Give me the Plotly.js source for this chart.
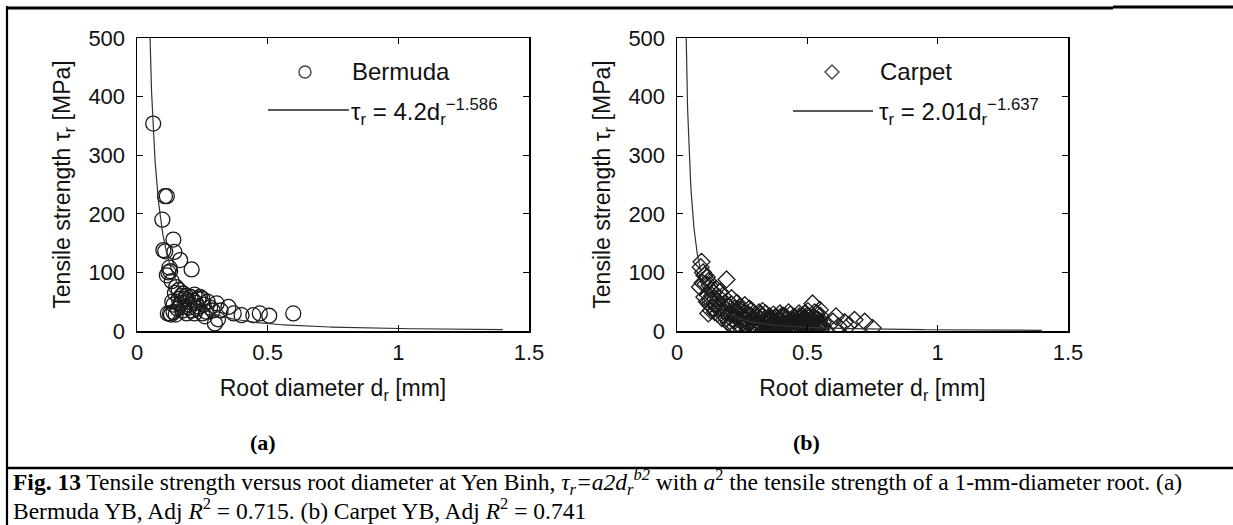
<!DOCTYPE html>
<html>
<head>
<meta charset="utf-8">
<script src="https://cdn.plot.ly/plotly-3.0.1.min.js"></script>
<style>
html,body{margin:0;padding:0;background:#fff;}
#chart{width:1233px;height:525px;}
</style>
</head>
<body>
<div id="chart"></div>
<script>
// ---- Data ----
// (a) Bermuda: root diameter [mm] and tensile strength [MPa]
const bermudaD = [0.062,0.107,0.114,0.097,0.139,0.101,0.143,0.108,0.165,0.124,0.209,0.114,0.120,0.133,0.127,
  0.150,0.160,0.145,0.170,0.177,0.185,0.195,0.205,0.215,0.225,0.235,0.241,0.255,0.270,0.280,0.290,0.305,0.320,
  0.350,0.370,0.400,0.445,0.470,0.506,0.598,0.298,0.310,
  0.126,0.130,0.140,0.155,0.165,0.175,0.190,0.200,0.210,0.220,0.230,0.250,0.260,0.170,0.180,0.160,0.200,0.220,
  0.250,0.140,0.135,0.118,0.148,0.188,0.232,0.265];
const bermudaT = [354,230,230,190,156,138,135,136,121,108,105,95,100,85,102,
  75,70,65,60,64,55,50,58,52,48,55,58,45,50,40,35,47,35,
  41,30,27,27,30,26,30,13,20,
  30,28,32,38,45,35,30,40,35,30,38,30,25,48,42,55,45,62,
  55,45,50,30,28,60,42,33];

// (b) Carpet: root diameter [mm] and tensile strength [MPa]
const carpetD = [0.094,0.091,0.100,0.105,0.114,0.088,0.098,0.110,0.120,0.125,0.130,0.190,0.165,0.150,0.140,
  0.135,0.118,0.105,0.128,0.145,0.155,0.160,0.175,0.209,0.185,0.170,0.150,0.138,0.125,0.115,0.160,0.180,
  0.195,0.200,0.175,0.145,0.130,0.120,0.190,0.210,0.220,0.230,0.240,0.250,0.225,0.215,0.235,0.245,0.255,
  0.260,0.270,0.280,0.275,0.265,0.285,0.290,0.295,0.300,0.305,0.310,0.315,0.320,0.325,0.330,0.335,0.340,
  0.345,0.350,0.355,0.360,0.365,0.370,0.375,0.380,0.385,0.390,0.395,0.400,0.405,0.410,0.415,0.420,0.425,
  0.430,0.435,0.440,0.445,0.450,0.455,0.460,0.465,0.470,0.475,0.480,0.485,0.490,0.495,0.500,0.505,0.510,
  0.515,0.520,0.525,0.530,0.535,0.540,0.545,0.550,0.555,0.560,0.598,0.610,0.643,0.681,0.720,0.751,0.620,
  0.660,0.205,0.228,0.248,0.262,0.278,0.288,0.298,0.308,0.318,0.328,0.338,0.348,0.358,0.368,0.378,0.388,
  0.398,0.408,0.418,0.428,0.438,0.448,0.458,0.468,0.478,0.488,0.498,0.508,0.518,0.528,0.538,0.548,0.558,
  0.155,0.165,0.172,0.183,0.198,0.212,0.222,0.238,0.252,0.268,0.282,0.292,0.312,0.322,0.332,0.342,0.352,
  0.362,0.372,0.382,0.392,0.402,0.412,0.422,0.432,0.442,0.452,0.462,0.472,0.482,0.492,0.502,0.512,0.522,
  0.532,0.542,0.552,0.238,0.302,0.352,0.402,0.452,0.502,0.322,0.372,0.422,0.472,0.542];
const carpetT = [118,109,100,95,92,75,82,80,85,78,70,88,67,72,65,
  60,62,58,52,55,50,58,60,56,48,45,42,40,45,50,38,35,
  42,30,28,32,35,30,22,45,38,48,40,35,25,18,12,28,20,
  44,30,25,15,8,35,10,20,28,5,18,32,12,25,8,20,30,
  3,15,25,10,20,28,5,15,22,8,30,18,4,12,25,20,8,
  15,28,3,18,10,22,6,15,25,12,4,20,30,10,18,25,8,
  15,47,22,12,30,5,18,26,10,15,16,25,15,19,16,5,8,
  10,10,32,6,22,38,18,2,24,6,34,14,22,2,12,24,16,
  6,26,10,32,14,24,2,30,18,8,26,14,4,32,20,36,8,
  30,40,22,32,15,28,8,20,14,10,26,4,14,28,2,10,18,
  6,16,10,4,22,0,14,6,18,2,12,0,26,16,4,10,6,
  20,12,2,36,8,16,26,4,34,20,12,1,22,9];

// Fitted power laws shown in the legends: tau = a * d^b
const fitA = [4.2, 2.01];
const fitB = [-1.586, -1.637];
const fitStart = [0.044, 0.030];
const fitEnd = [1.4, 1.4];

const xTicks = [0, 0.5, 1, 1.5];
const xTickText = ['0', '0.5', '1', '1.5'];
const yTicks = [0, 100, 200, 300, 400, 500];
const yTickText = ['0', '100', '200', '300', '400', '500'];

// ---- helpers ----
const W = 1233, H = 525;
const px = x => x / W;
const py = y => 1 - y / H;

function fitCurve(i) {
  const xs = [], ys = [];
  const n = 400;
  for (let k = 0; k <= n; k++) {
    // log-spaced samples of the fitted function
    const d = fitStart[i] * Math.pow(fitEnd[i] / fitStart[i], k / n);
    xs.push(d);
    ys.push(fitA[i] * Math.pow(d, fitB[i]));
  }
  return {xs, ys};
}
const c1 = fitCurve(0), c2 = fitCurve(1);

const markerColor = '#1a1a1a';
const traces = [
  {x: bermudaD, y: bermudaT, xaxis: 'x', yaxis: 'y', type: 'scatter', mode: 'markers',
   marker: {symbol: 'circle-open', size: 15, color: markerColor, line: {width: 1.3, color: markerColor}},
   showlegend: false, hoverinfo: 'skip'},
  {x: c1.xs, y: c1.ys, xaxis: 'x', yaxis: 'y', type: 'scatter', mode: 'lines',
   line: {color: '#333', width: 1.2}, showlegend: false, hoverinfo: 'skip'},
  {x: carpetD, y: carpetT, xaxis: 'x2', yaxis: 'y2', type: 'scatter', mode: 'markers',
   marker: {symbol: 'diamond-open', size: 13, color: markerColor, line: {width: 1.3, color: markerColor}},
   showlegend: false, hoverinfo: 'skip'},
  {x: c2.xs, y: c2.ys, xaxis: 'x2', yaxis: 'y2', type: 'scatter', mode: 'lines',
   line: {color: '#333', width: 1.2}, showlegend: false, hoverinfo: 'skip'}
];

const sans = 'Liberation Sans, Arial, sans-serif';
const serif = 'Liberation Serif, Times New Roman, serif';
const tickFont = {family: sans, size: 22, color: '#111'};
const titleFont = {family: sans, size: 23, color: '#111'};

function xAxis(domain, anchor) {
  return {domain, anchor, range: [0, 1.5], tickmode: 'array', tickvals: xTicks, ticktext: xTickText,
    ticks: 'inside', ticklen: 6, tickwidth: 1.2, tickcolor: '#000', showline: true, linecolor: '#000',
    linewidth: 1.5, mirror: 'ticks', showgrid: false, zeroline: false, tickfont: tickFont,
    ticklabelstandoff: 1,
    title: {text: 'Root diameter d<sub>r</sub> [mm]', font: titleFont, standoff: 16}};
}
function yAxis(anchor) {
  return {domain: [py(331), py(38)], anchor, range: [0, 500], tickmode: 'array', tickvals: yTicks,
    ticktext: yTickText, ticks: 'inside', ticklen: 6, tickwidth: 1.2, tickcolor: '#000', showline: true,
    linecolor: '#000', linewidth: 1.5, mirror: 'ticks', showgrid: false, zeroline: false, tickfont: tickFont,
    ticklabelstandoff: 6,
    title: {text: 'Tensile strength τ<sub>r</sub> [MPa]', font: titleFont, standoff: 11}};
}

const legFont = {family: sans, size: 24, color: '#111'};
const capFont = {family: serif, size: 23.5, color: '#000'};
const annotations = [
  // legend (a)
  {xref: 'paper', yref: 'paper', x: px(350), y: py(72), xanchor: 'left', yanchor: 'middle',
   text: 'Bermuda', showarrow: false, font: legFont},
  {xref: 'paper', yref: 'paper', x: px(349), y: py(112), xanchor: 'left', yanchor: 'middle',
   text: 'τ<sub>r</sub> = 4.2d<sub>r</sub><sup>−1.586</sup>', showarrow: false, font: legFont},
  // legend (b)
  {xref: 'paper', yref: 'paper', x: px(878), y: py(72), xanchor: 'left', yanchor: 'middle',
   text: 'Carpet', showarrow: false, font: legFont},
  {xref: 'paper', yref: 'paper', x: px(877), y: py(112), xanchor: 'left', yanchor: 'middle',
   text: 'τ<sub>r</sub> = 2.01d<sub>r</sub><sup>−1.637</sup>', showarrow: false, font: legFont},
  // panel labels
  {xref: 'paper', yref: 'paper', x: px(263), y: py(442), xanchor: 'center', yanchor: 'middle',
   text: '<b>(a)</b>', showarrow: false, font: {family: serif, size: 22, color: '#000'}},
  {xref: 'paper', yref: 'paper', x: px(806), y: py(442), xanchor: 'center', yanchor: 'middle',
   text: '<b>(b)</b>', showarrow: false, font: {family: serif, size: 22, color: '#000'}},
  // caption
  {xref: 'paper', yref: 'paper', x: px(11), y: py(482), xanchor: 'left', yanchor: 'middle', align: 'left',
   text: '<b>Fig. 13</b> Tensile strength versus root diameter at Yen Binh, <i>τ<sub>r</sub>=a2d<sub>r</sub><sup>b2</sup></i> with <i>a</i><sup>2</sup> the tensile strength of a 1-mm-diameter root. (a)',
   showarrow: false, font: capFont},
  {xref: 'paper', yref: 'paper', x: px(11), y: py(509), xanchor: 'left', yanchor: 'middle', align: 'left',
   text: 'Bermuda YB, Adj <i>R</i><sup>2</sup> = 0.715. (b) Carpet YB, Adj <i>R</i><sup>2</sup> = 0.741',
   showarrow: false, font: capFont}
];

const shapes = [
  // figure frame
  {type: 'line', xref: 'paper', yref: 'paper', x0: px(7), x1: px(7), y0: py(6), y1: py(525), line: {color: '#000', width: 2.2}},
  {type: 'line', xref: 'paper', yref: 'paper', x0: px(6), x1: px(1113), y0: py(8), y1: py(8), line: {color: '#000', width: 3}},
  {type: 'line', xref: 'paper', yref: 'paper', x0: px(1113), x1: px(1233), y0: py(7), y1: py(7), line: {color: '#000', width: 3}},
  {type: 'line', xref: 'paper', yref: 'paper', x0: px(7), x1: px(1233), y0: py(468), y1: py(468), line: {color: '#000', width: 2.5}},
  // legend line samples
  {type: 'line', xref: 'paper', yref: 'paper', x0: px(268), x1: px(349), y0: py(110), y1: py(110), line: {color: '#222', width: 1.3}},
  {type: 'line', xref: 'paper', yref: 'paper', x0: px(793), x1: px(873), y0: py(111), y1: py(111), line: {color: '#222', width: 1.3}},
  // legend marker samples
  {type: 'circle', xref: 'paper', yref: 'paper', xsizemode: 'pixel', ysizemode: 'pixel',
   xanchor: px(305), yanchor: py(72), x0: -6, x1: 6, y0: -6, y1: 6, line: {color: '#444', width: 1.4}},
  {type: 'path', xref: 'paper', yref: 'paper', xsizemode: 'pixel', ysizemode: 'pixel',
   xanchor: px(832), yanchor: py(72), path: 'M0,7 L7,0 L0,-7 L-7,0 Z', line: {color: '#444', width: 1.4}}
];

const layout = {
  width: W, height: H,
  margin: {l: 0, r: 0, t: 0, b: 0},
  paper_bgcolor: '#fff', plot_bgcolor: '#fff',
  showlegend: false,
  xaxis: xAxis([px(137), px(529)], 'y'),
  yaxis: yAxis('x'),
  xaxis2: xAxis([px(677), px(1068)], 'y2'),
  yaxis2: yAxis('x2'),
  annotations, shapes,
  font: {family: sans}
};

Plotly.newPlot('chart', traces, layout, {staticPlot: true, displayModeBar: false});
</script>
</body>
</html>
